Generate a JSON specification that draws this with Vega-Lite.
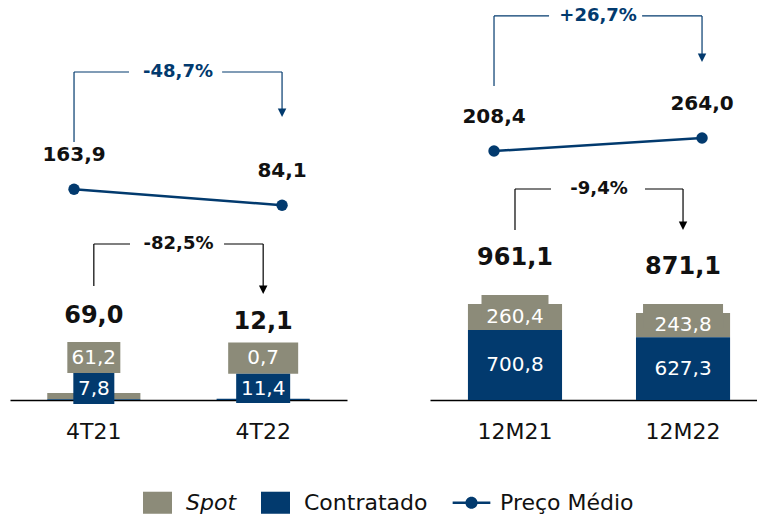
{
  "$schema": "https://vega.github.io/schema/vega-lite/v6.json",
  "padding": {"left": 10, "top": 0, "right": 0, "bottom": 0},
  "config": {
    "font": "DejaVu Sans",
    "view": {"stroke": null},
    "locale": {"number": {"decimal": ",", "thousands": ".", "grouping": [3], "currency": ["R$ ", ""]}}
  },
  "datasets": {
    "bars": [
      {"panel": "T", "cat": "4T21", "type": "Spot", "value": 61.2},
      {"panel": "T", "cat": "4T21", "type": "Contratado", "value": 7.8},
      {"panel": "T", "cat": "4T22", "type": "Spot", "value": 0.7},
      {"panel": "T", "cat": "4T22", "type": "Contratado", "value": 11.4},
      {"panel": "M", "cat": "12M21", "type": "Spot", "value": 260.4},
      {"panel": "M", "cat": "12M21", "type": "Contratado", "value": 700.8},
      {"panel": "M", "cat": "12M22", "type": "Spot", "value": 243.8},
      {"panel": "M", "cat": "12M22", "type": "Contratado", "value": 627.3}
    ],
    "totals": [
      {"panel": "T", "cat": "4T21", "total": 69.0},
      {"panel": "T", "cat": "4T22", "total": 12.1},
      {"panel": "M", "cat": "12M21", "total": 961.1},
      {"panel": "M", "cat": "12M22", "total": 871.1}
    ],
    "price": [
      {"panel": "T", "cat": "4T21", "price": 163.9},
      {"panel": "T", "cat": "4T22", "price": 84.1},
      {"panel": "M", "cat": "12M21", "price": 208.4},
      {"panel": "M", "cat": "12M22", "price": 264.0}
    ],
    "changes": [
      {"panel": "T", "series": "price", "from": "4T21", "to": "4T22", "label": "-48,7%"},
      {"panel": "T", "series": "volume", "from": "4T21", "to": "4T22", "label": "-82,5%"},
      {"panel": "M", "series": "price", "from": "12M21", "to": "12M22", "label": "+26,7%"},
      {"panel": "M", "series": "volume", "from": "12M21", "to": "12M22", "label": "-9,4%"}
    ]
  },
  "spacing": 83,
  "hconcat": [
    {
      "width": 337,
      "height": 400,
      "resolve": {"scale": {"x": "independent", "y": "independent"}},
      "layer": [
        {
          "layer": [
            {
              "data": {"name": "bars"},
              "transform": [{"filter": "datum.panel === 'T'"}],
              "mark": {"type": "bar"},
              "encoding": {
                "x": {"field": "cat", "type": "nominal", "scale": {"domain": ["4T21", "4T22"], "paddingInner": 0.45, "paddingOuter": 0.22}, "axis": {"title": null, "ticks": false, "labelAngle": 0, "labelFontSize": 22, "labelPadding": 21, "labelColor": "#111", "domainColor": "#000", "domainWidth": 1.5}},
                "y": {"field": "value", "type": "quantitative", "stack": "zero", "scale": {"domain": [0, 4000], "nice": false, "zero": false}, "axis": null},
                "color": {"field": "type", "type": "nominal", "scale": {"domain": ["Spot", "Contratado", "Preço Médio"], "range": ["#8c8b79", "#023a6e", "#023a6e"]},
                  "legend": {"orient": "none", "legendX": 133, "legendY": 488, "direction": "horizontal", "title": null, "symbolSize": 841, "labelFontSize": 22, "labelOffset": 14, "columnPadding": 24, "symbolStrokeWidth": 0, "labelColor": "#111", "labelFont": "DejaVu Sans",
                    "encode": {
                      "symbols": {"update": {"shape": {"signal": "datum.value === 'Preço Médio' ? 'M-1.3,-0.09L1.3,-0.09L1.3,0.09L-1.3,0.09Z M-0.42,0A0.42,0.42 0 1,1 0.42,0A0.42,0.42 0 1,1 -0.42,0Z' : 'M-1,-0.76L1,-0.76L1,0.76L-1,0.76Z'"}, "strokeWidth": {"value": 0}}},
                      "labels": {"update": {"fontStyle": {"signal": "datum.value === 'Spot' ? 'italic' : 'normal'"}}}
                    }}},
                "order": {"field": "type", "sort": "ascending"}
              }
            },
            {
              "data": {"name": "bars"},
              "transform": [{"filter": "datum.panel === 'T' && datum.cat === '4T21' && datum.type === 'Spot'"}],
              "mark": {"type": "bar", "width": 53, "color": "#8c8b79"},
              "encoding": {"x": {"field": "cat", "type": "nominal"}, "y": {"datum": 580, "type": "quantitative"}, "y2": {"datum": 270}}
            },
            {
              "data": {"name": "bars"},
              "transform": [{"filter": "datum.panel === 'T' && datum.cat === '4T22' && datum.type === 'Spot'"}],
              "mark": {"type": "bar", "width": 70, "color": "#8c8b79"},
              "encoding": {"x": {"field": "cat", "type": "nominal"}, "y": {"datum": 575, "type": "quantitative"}, "y2": {"datum": 262}}
            },
            {
              "data": {"name": "bars"},
              "transform": [{"filter": "datum.panel === 'T' && datum.cat === '4T21' && datum.type === 'Contratado'"}],
              "mark": {"type": "bar", "width": 41, "color": "#023a6e"},
              "encoding": {"x": {"field": "cat", "type": "nominal"}, "y": {"datum": 270, "type": "quantitative"}, "y2": {"datum": -40}}
            },
            {
              "data": {"name": "bars"},
              "transform": [{"filter": "datum.panel === 'T' && datum.cat === '4T22' && datum.type === 'Contratado'"}],
              "mark": {"type": "bar", "width": 54, "color": "#023a6e"},
              "encoding": {"x": {"field": "cat", "type": "nominal"}, "y": {"datum": 262, "type": "quantitative"}, "y2": {"datum": -30}}
            },
            {
              "data": {"name": "bars"},
              "transform": [{"filter": "datum.panel === 'T' && datum.type === 'Spot'"}],
              "mark": {"type": "text", "color": "#ffffff", "fontSize": 20},
              "encoding": {"x": {"field": "cat", "type": "nominal"}, "y": {"datum": 424, "type": "quantitative"}, "text": {"field": "value", "type": "quantitative", "format": ".1f"}}
            },
            {
              "data": {"name": "bars"},
              "transform": [{"filter": "datum.panel === 'T' && datum.type === 'Contratado'"}],
              "mark": {"type": "text", "color": "#ffffff", "fontSize": 20},
              "encoding": {"x": {"field": "cat", "type": "nominal"}, "y": {"datum": 115, "type": "quantitative"}, "text": {"field": "value", "type": "quantitative", "format": ".1f"}}
            },
            {
              "data": {"name": "totals"},
              "transform": [{"filter": "datum.panel === 'T'"}],
              "mark": {"type": "text", "color": "#111", "fontSize": 24, "fontWeight": "bold", "dy": -77},
              "encoding": {"x": {"field": "cat", "type": "nominal"}, "y": {"field": "total", "type": "quantitative"}, "text": {"field": "total", "type": "quantitative", "format": ".1f"}}
            },
            {
              "data": {"name": "changes"},
              "transform": [{"filter": "datum.panel === 'T' && datum.series === 'volume'"}],
              "layer": [
                {"mark": {"type": "rule", "color": "#000", "strokeWidth": 1.2}, "encoding": {"x": {"field": "from", "type": "nominal", "bandPosition": 0.5}, "y": {"datum": 1140, "type": "quantitative"}, "y2": {"datum": 1560}}},
                {"mark": {"type": "rule", "color": "#000", "strokeWidth": 1.2}, "encoding": {"x": {"field": "from", "type": "nominal", "bandPosition": 0.5}, "x2": {"field": "from", "bandPosition": 0.889}, "y": {"datum": 1560, "type": "quantitative"}}},
                {"mark": {"type": "rule", "color": "#000", "strokeWidth": 1.2}, "encoding": {"x": {"field": "from", "type": "nominal", "bandPosition": 1.898}, "x2": {"field": "to", "bandPosition": 0.5}, "y": {"datum": 1560, "type": "quantitative"}}},
                {"mark": {"type": "rule", "color": "#000", "strokeWidth": 1.2}, "encoding": {"x": {"field": "to", "type": "nominal", "bandPosition": 0.5}, "y": {"datum": 1560, "type": "quantitative"}, "y2": {"datum": 1130}}},
                {"mark": {"type": "point", "filled": true, "color": "#000", "opacity": 1, "size": 72, "shape": "M-1,-1L1,-1L0,1Z"}, "encoding": {"x": {"field": "to", "type": "nominal", "bandPosition": 0.5}, "y": {"datum": 1102, "type": "quantitative"}}},
                {"mark": {"type": "text", "color": "#111", "fontSize": 18, "fontWeight": "bold"}, "encoding": {"x": {"field": "from", "type": "nominal", "bandPosition": 1.4095}, "y": {"datum": 1560, "type": "quantitative"}, "text": {"field": "label"}}}
              ]
            }
          ]
        },
        {
          "layer": [
            {
              "data": {"name": "price"},
              "transform": [{"filter": "datum.panel === 'T'"}],
              "mark": {"type": "line", "color": "#023a6e", "strokeWidth": 2.5, "point": {"filled": true, "size": 130, "color": "#023a6e", "opacity": 1}},
              "encoding": {
                "x": {"field": "cat", "type": "nominal", "bandPosition": 0.5, "scale": {"domain": ["4T21", "4T22"], "paddingInner": 0.519, "paddingOuter": 0.0695, "align": 0.484}, "axis": null},
                "y": {"field": "price", "type": "quantitative", "scale": {"domain": [-890, 1110], "nice": false, "zero": false}, "axis": null}
              }
            },
            {
              "data": {"name": "price"},
              "transform": [{"filter": "datum.panel === 'T'"}],
              "mark": {"type": "text", "color": "#111", "fontSize": 20, "fontWeight": "bold", "dy": -34},
              "encoding": {"x": {"field": "cat", "type": "nominal", "bandPosition": 0.5}, "y": {"field": "price", "type": "quantitative"}, "text": {"field": "price", "type": "quantitative", "format": ".1f"}}
            },
            {
              "data": {"name": "changes"},
              "transform": [{"filter": "datum.panel === 'T' && datum.series === 'price'"}],
              "layer": [
                {"mark": {"type": "rule", "color": "#023a6e", "strokeWidth": 1.2}, "encoding": {"x": {"field": "from", "type": "nominal", "bandPosition": 0.5}, "y": {"datum": 400, "type": "quantitative"}, "y2": {"datum": 750}}},
                {"mark": {"type": "rule", "color": "#023a6e", "strokeWidth": 1.2}, "encoding": {"x": {"field": "from", "type": "nominal", "bandPosition": 0.5}, "x2": {"field": "from", "bandPosition": 1.05}, "y": {"datum": 750, "type": "quantitative"}}},
                {"mark": {"type": "rule", "color": "#023a6e", "strokeWidth": 1.2}, "encoding": {"x": {"field": "from", "type": "nominal", "bandPosition": 1.98}, "x2": {"field": "to", "bandPosition": 0.5}, "y": {"datum": 750, "type": "quantitative"}}},
                {"mark": {"type": "rule", "color": "#023a6e", "strokeWidth": 1.2}, "encoding": {"x": {"field": "to", "type": "nominal", "bandPosition": 0.5}, "y": {"datum": 750, "type": "quantitative"}, "y2": {"datum": 565}}},
                {"mark": {"type": "point", "filled": true, "color": "#023a6e", "opacity": 1, "size": 72, "shape": "M-1,-1L1,-1L0,1Z"}, "encoding": {"x": {"field": "to", "type": "nominal", "bandPosition": 0.5}, "y": {"datum": 546, "type": "quantitative"}}},
                {"mark": {"type": "text", "color": "#023a6e", "fontSize": 18, "fontWeight": "bold"}, "encoding": {"x": {"field": "from", "type": "nominal", "bandPosition": 1.5395}, "y": {"datum": 750, "type": "quantitative"}, "text": {"field": "label"}}}
              ]
            }
          ]
        }
      ]
    },
    {
      "width": 327,
      "height": 400,
      "resolve": {"scale": {"x": "independent", "y": "independent"}},
      "layer": [
        {
          "layer": [
            {
              "data": {"name": "bars"},
              "transform": [{"filter": "datum.panel === 'M'"}],
              "mark": {"type": "bar"},
              "encoding": {
                "x": {"field": "cat", "type": "nominal", "scale": {"domain": ["12M21", "12M22"], "paddingInner": 0.44, "paddingOuter": 0.193, "align": 0.585}, "axis": {"title": null, "ticks": false, "labelAngle": 0, "labelFontSize": 22, "labelPadding": 21, "labelColor": "#111", "domainColor": "#000", "domainWidth": 1.5}},
                "y": {"field": "value", "type": "quantitative", "stack": "zero", "scale": {"domain": [0, 4000], "nice": false, "zero": false}, "axis": null},
                "color": {"field": "type", "type": "nominal", "scale": {"domain": ["Spot", "Contratado", "Preço Médio"], "range": ["#8c8b79", "#023a6e", "#023a6e"]},
                  "legend": {"orient": "none", "legendX": 133, "legendY": 488, "direction": "horizontal", "title": null, "symbolSize": 841, "labelFontSize": 22, "labelOffset": 14, "columnPadding": 24, "symbolStrokeWidth": 0, "labelColor": "#111", "labelFont": "DejaVu Sans",
                    "encode": {
                      "symbols": {"update": {"shape": {"signal": "datum.value === 'Preço Médio' ? 'M-1.3,-0.09L1.3,-0.09L1.3,0.09L-1.3,0.09Z M-0.42,0A0.42,0.42 0 1,1 0.42,0A0.42,0.42 0 1,1 -0.42,0Z' : 'M-1,-0.76L1,-0.76L1,0.76L-1,0.76Z'"}, "strokeWidth": {"value": 0}}},
                      "labels": {"update": {"fontStyle": {"signal": "datum.value === 'Spot' ? 'italic' : 'normal'"}}}
                    }}},
                "order": {"field": "type", "sort": "ascending"}
              }
            },
            {
              "data": {"name": "bars"},
              "transform": [{"filter": "datum.panel === 'M' && datum.cat === '12M21'"}],
              "mark": {"type": "bar", "width": 67, "color": "#8c8b79", "yOffset": -9},
              "encoding": {
                "x": {"field": "cat", "type": "nominal"},
                "y": {"field": "value", "type": "quantitative", "stack": "zero"},
                "order": {"field": "type", "sort": "ascending"},
                "opacity": {"condition": {"test": "datum.type === 'Spot'", "value": 1}, "value": 0}
              }
            },
            {
              "data": {"name": "bars"},
              "transform": [{"filter": "datum.panel === 'M' && datum.cat === '12M22'"}],
              "mark": {"type": "bar", "width": 80, "color": "#8c8b79", "yOffset": -9},
              "encoding": {
                "x": {"field": "cat", "type": "nominal"},
                "y": {"field": "value", "type": "quantitative", "stack": "zero"},
                "order": {"field": "type", "sort": "ascending"},
                "opacity": {"condition": {"test": "datum.type === 'Spot'", "value": 1}, "value": 0}
              }
            },
            {
              "data": {"name": "bars"},
              "transform": [{"filter": "datum.panel === 'M'"}],
              "mark": {"type": "text", "color": "#ffffff", "fontSize": 20},
              "encoding": {
                "x": {"field": "cat", "type": "nominal"},
                "y": {"field": "value", "type": "quantitative", "stack": "zero", "bandPosition": 0.5},
                "order": {"field": "type", "sort": "ascending"},
                "text": {"field": "value", "type": "quantitative", "format": ".1f"}
              }
            },
            {
              "data": {"name": "totals"},
              "transform": [{"filter": "datum.panel === 'M'"}],
              "mark": {"type": "text", "color": "#111", "fontSize": 24, "fontWeight": "bold", "dy": -46},
              "encoding": {"x": {"field": "cat", "type": "nominal"}, "y": {"field": "total", "type": "quantitative"}, "text": {"field": "total", "type": "quantitative", "format": ".1f"}}
            },
            {
              "data": {"name": "changes"},
              "transform": [{"filter": "datum.panel === 'M' && datum.series === 'volume'"}],
              "layer": [
                {"mark": {"type": "rule", "color": "#000", "strokeWidth": 1.2}, "encoding": {"x": {"field": "from", "type": "nominal", "bandPosition": 0.5}, "y": {"datum": 1700, "type": "quantitative"}, "y2": {"datum": 2110}}},
                {"mark": {"type": "rule", "color": "#000", "strokeWidth": 1.2}, "encoding": {"x": {"field": "from", "type": "nominal", "bandPosition": 0.5}, "x2": {"field": "from", "bandPosition": 0.883}, "y": {"datum": 2110, "type": "quantitative"}}},
                {"mark": {"type": "rule", "color": "#000", "strokeWidth": 1.2}, "encoding": {"x": {"field": "from", "type": "nominal", "bandPosition": 1.881}, "x2": {"field": "to", "bandPosition": 0.5}, "y": {"datum": 2110, "type": "quantitative"}}},
                {"mark": {"type": "rule", "color": "#000", "strokeWidth": 1.2}, "encoding": {"x": {"field": "to", "type": "nominal", "bandPosition": 0.5}, "y": {"datum": 2110, "type": "quantitative"}, "y2": {"datum": 1780}}},
                {"mark": {"type": "point", "filled": true, "color": "#000", "opacity": 1, "size": 72, "shape": "M-1,-1L1,-1L0,1Z"}, "encoding": {"x": {"field": "to", "type": "nominal", "bandPosition": 0.5}, "y": {"datum": 1742, "type": "quantitative"}}},
                {"mark": {"type": "text", "color": "#111", "fontSize": 18, "fontWeight": "bold"}, "encoding": {"x": {"field": "from", "type": "nominal", "bandPosition": 1.3927}, "y": {"datum": 2110, "type": "quantitative"}, "text": {"field": "label"}}}
              ]
            }
          ]
        },
        {
          "layer": [
            {
              "data": {"name": "price"},
              "transform": [{"filter": "datum.panel === 'M'"}],
              "mark": {"type": "line", "color": "#023a6e", "strokeWidth": 2.5, "point": {"filled": true, "size": 130, "color": "#023a6e", "opacity": 1}},
              "encoding": {
                "x": {"field": "cat", "type": "nominal", "bandPosition": 0.5, "scale": {"domain": ["12M21", "12M22"], "paddingInner": 0.519, "paddingOuter": 0.0455, "align": 0.739}, "axis": null},
                "y": {"field": "price", "type": "quantitative", "scale": {"domain": [-856, 854], "nice": false, "zero": false}, "axis": null}
              }
            },
            {
              "data": {"name": "price"},
              "transform": [{"filter": "datum.panel === 'M'"}],
              "mark": {"type": "text", "color": "#111", "fontSize": 20, "fontWeight": "bold", "dy": -34},
              "encoding": {"x": {"field": "cat", "type": "nominal", "bandPosition": 0.5}, "y": {"field": "price", "type": "quantitative"}, "text": {"field": "price", "type": "quantitative", "format": ".1f"}}
            },
            {
              "data": {"name": "changes"},
              "transform": [{"filter": "datum.panel === 'M' && datum.series === 'price'"}],
              "layer": [
                {"mark": {"type": "rule", "color": "#023a6e", "strokeWidth": 1.2}, "encoding": {"x": {"field": "from", "type": "nominal", "bandPosition": 0.5}, "y": {"datum": 486, "type": "quantitative"}, "y2": {"datum": 786}}},
                {"mark": {"type": "rule", "color": "#023a6e", "strokeWidth": 1.2}, "encoding": {"x": {"field": "from", "type": "nominal", "bandPosition": 0.5}, "x2": {"field": "from", "bandPosition": 1.05}, "y": {"datum": 786, "type": "quantitative"}}},
                {"mark": {"type": "rule", "color": "#023a6e", "strokeWidth": 1.2}, "encoding": {"x": {"field": "from", "type": "nominal", "bandPosition": 1.98}, "x2": {"field": "to", "bandPosition": 0.5}, "y": {"datum": 786, "type": "quantitative"}}},
                {"mark": {"type": "rule", "color": "#023a6e", "strokeWidth": 1.2}, "encoding": {"x": {"field": "to", "type": "nominal", "bandPosition": 0.5}, "y": {"datum": 786, "type": "quantitative"}, "y2": {"datum": 623}}},
                {"mark": {"type": "point", "filled": true, "color": "#023a6e", "opacity": 1, "size": 72, "shape": "M-1,-1L1,-1L0,1Z"}, "encoding": {"x": {"field": "to", "type": "nominal", "bandPosition": 0.5}, "y": {"datum": 607, "type": "quantitative"}}},
                {"mark": {"type": "text", "color": "#023a6e", "fontSize": 18, "fontWeight": "bold"}, "encoding": {"x": {"field": "from", "type": "nominal", "bandPosition": 1.54}, "y": {"datum": 786, "type": "quantitative"}, "text": {"field": "label"}}}
              ]
            }
          ]
        }
      ]
    }
  ]
}
